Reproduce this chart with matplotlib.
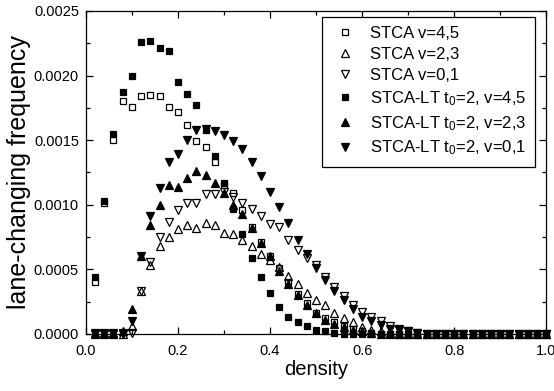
import matplotlib
matplotlib.use('Agg')
import matplotlib.pyplot as plt
from matplotlib.ticker import MultipleLocator, FormatStrFormatter

plt.rcParams['font.family'] = ['Liberation Sans', 'DejaVu Sans']
plt.rcParams['mathtext.fontset'] = 'custom'
plt.rcParams['mathtext.rm'] = 'Liberation Sans'
plt.rcParams['mathtext.it'] = 'Liberation Sans'

density = [0.02, 0.04, 0.06, 0.08, 0.10, 0.12, 0.14, 0.16, 0.18, 0.20,
           0.22, 0.24, 0.26, 0.28, 0.30, 0.32, 0.34, 0.36, 0.38, 0.40,
           0.42, 0.44, 0.46, 0.48, 0.50, 0.52, 0.54, 0.56, 0.58, 0.60,
           0.62, 0.64, 0.66, 0.68, 0.70, 0.72, 0.74, 0.76, 0.78, 0.80,
           0.82, 0.84, 0.86, 0.88, 0.90, 0.92, 0.94, 0.96, 0.98, 1.00]

tail = [0.0] * 15

stca_45 = [0.00040, 0.00101, 0.00150, 0.00180, 0.00176, 0.00184, 0.00185, 0.00184, 0.00176, 0.00172,
           0.00162, 0.00149, 0.00145, 0.00133, 0.00115, 0.00109, 0.00096, 0.00083, 0.00071, 0.00060,
           0.00051, 0.00040, 0.00031, 0.00024, 0.00016, 0.00012, 0.00009, 0.00006, 0.00004, 0.00002,
           0.00001, 0.0, 0.0, 0.0, 0.0] + tail
stca_23 = [0.0, 0.0, 0.0, 0.0, 0.00006, 0.00033, 0.00053, 0.00068, 0.00075, 0.00081,
           0.00084, 0.00082, 0.00086, 0.00084, 0.00078, 0.00077, 0.00073, 0.00068, 0.00062, 0.00057,
           0.00052, 0.00045, 0.00039, 0.00032, 0.00026, 0.00022, 0.00016, 0.00012, 0.00009, 0.00005,
           0.00003, 0.00002, 0.00001, 0.0, 0.0] + tail
stca_01 = [0.0, 0.0, 0.0, 0.0, 0.00001, 0.00033, 0.00056, 0.00075, 0.00087, 0.00096,
           0.00101, 0.00101, 0.00108, 0.00108, 0.00110, 0.00106, 0.00101, 0.00097, 0.00091, 0.00085,
           0.00083, 0.00073, 0.00065, 0.00059, 0.00053, 0.00044, 0.00036, 0.00029, 0.00022, 0.00017,
           0.00013, 0.00010, 0.00006, 0.00004, 0.00002] + [0.00001] + tail[1:]
lt_45 = [0.00044, 0.00103, 0.00155, 0.00187, 0.00200, 0.00226, 0.00227, 0.00221, 0.00219, 0.00195,
         0.00186, 0.00177, 0.00158, 0.00138, 0.00117, 0.00097, 0.00077, 0.00059, 0.00044, 0.00032,
         0.00021, 0.00013, 0.00009, 0.00006, 0.00003, 0.00002, 0.00001, 0.0, 0.0, 0.0,
         0.0, 0.0, 0.0, 0.0, 0.0] + tail
lt_23 = [0.00001, 0.00001, 0.00001, 0.00002, 0.00019, 0.00060, 0.00084, 0.00100, 0.00115, 0.00114,
         0.00121, 0.00126, 0.00123, 0.00117, 0.00109, 0.00100, 0.00093, 0.00082, 0.00070, 0.00060,
         0.00049, 0.00039, 0.00030, 0.00022, 0.00016, 0.00011, 0.00008, 0.00005, 0.00003, 0.00002,
         0.00001, 0.0, 0.0, 0.0, 0.0] + tail
lt_01 = [0.00001, 0.00001, 0.00001, 0.00001, 0.00010, 0.00060, 0.00091, 0.00113, 0.00133, 0.00139,
         0.00150, 0.00158, 0.00159, 0.00157, 0.00154, 0.00149, 0.00143, 0.00133, 0.00122, 0.00110,
         0.00098, 0.00086, 0.00073, 0.00062, 0.00051, 0.00042, 0.00033, 0.00026, 0.00019, 0.00013,
         0.00010, 0.00007, 0.00004, 0.00003, 0.00002] + [0.00001] + tail[1:]

series = [
    (stca_45, 's', 'none', 5, 'STCA v=4,5'),
    (stca_23, '^', 'none', 6, 'STCA v=2,3'),
    (stca_01, 'v', 'none', 6, 'STCA v=0,1'),
    (lt_45, 's', 'k', 5, 'STCA-LT t$_0$=2, v=4,5'),
    (lt_23, '^', 'k', 6, 'STCA-LT t$_0$=2, v=2,3'),
    (lt_01, 'v', 'k', 6, 'STCA-LT t$_0$=2, v=0,1'),
]

fig = plt.figure(figsize=(5.54, 3.91), dpi=100)
ax = fig.add_axes([0.155, 0.146, 0.831, 0.826])

for vals, m, fc, ms, lab in series:
    ax.plot(density, vals, linestyle='none', marker=m, markersize=ms,
            markerfacecolor=fc, markeredgecolor='k', markeredgewidth=0.9,
            label=lab, clip_on=False)

ax.set_xlim(0.0, 1.0)
ax.set_ylim(0.0, 0.0025)
ax.xaxis.set_major_locator(MultipleLocator(0.2))
ax.xaxis.set_minor_locator(MultipleLocator(0.1))
ax.yaxis.set_major_locator(MultipleLocator(0.0005))
ax.yaxis.set_minor_locator(MultipleLocator(0.00025))
ax.xaxis.set_major_formatter(FormatStrFormatter('%.1f'))
ax.yaxis.set_major_formatter(FormatStrFormatter('%.4f'))
ax.tick_params(which='both', direction='in', top=True, right=True, labelsize=10.5)
ax.tick_params(which='major', length=5, width=0.9)
ax.tick_params(axis='x', which='major', pad=7)
ax.tick_params(axis='y', which='major', pad=5)
ax.tick_params(which='minor', length=3, width=0.9)
for s in ax.spines.values():
    s.set_linewidth(0.9)

ax.set_xlabel('density', size=14.5, labelpad=2)
ax.set_ylabel('lane-changing frequency', size=18, labelpad=2)

leg = ax.legend(loc='upper right', bbox_to_anchor=(0.976, 0.981), fontsize=12,
                frameon=True, fancybox=False, edgecolor='k', framealpha=1,
                handlelength=1.6, handletextpad=0.7, labelspacing=0.36,
                borderpad=0.55, borderaxespad=0.0)
leg.get_frame().set_linewidth(0.9)

fig.savefig('out.png', dpi=100)
